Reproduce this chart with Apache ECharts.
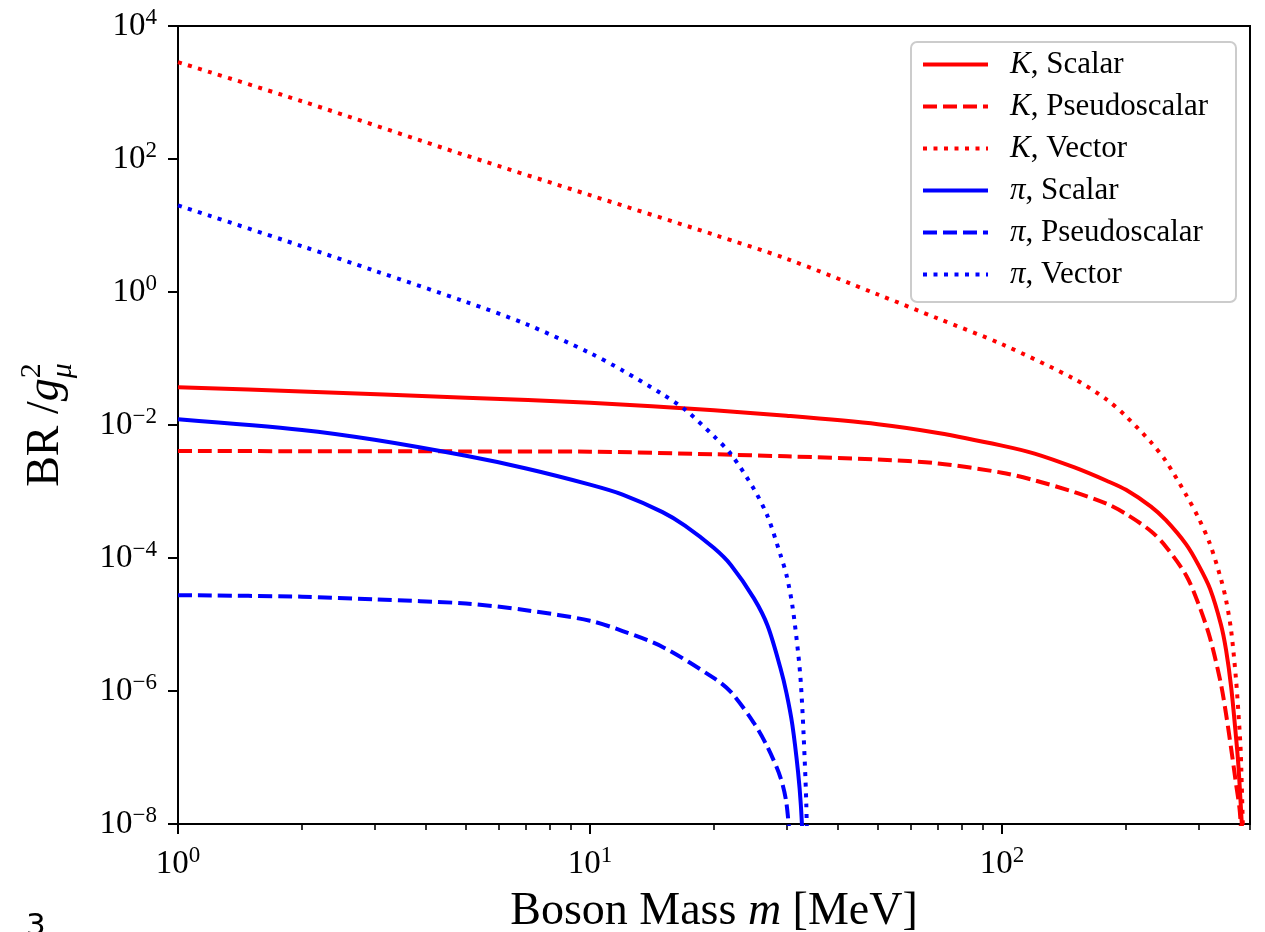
<!DOCTYPE html>
<html>
<head>
<meta charset="utf-8">
<script src="https://cdn.jsdelivr.net/npm/echarts@6/dist/echarts.min.js"></script>
<style>
html, body { margin: 0; padding: 0; background: #fff; }
#main { width: 1265px; height: 932px; }
</style>
</head>
<body>
<div id="main"></div>
<script>
// boson mass [MeV] and BR/g^2
var kScalarM  = [1, 2, 5, 10, 20, 30, 50, 70, 100, 120, 150, 180, 200, 230, 250, 280, 300, 320, 340, 350, 360, 370, 375, 380, 386];
var kScalarBR = [0.037, 0.0319, 0.0258, 0.0216, 0.0166, 0.0138, 0.0103, 0.0076, 0.0049, 0.00372, 0.0023, 0.00144, 0.00106, 5.93e-4, 3.7e-4, 1.6e-4, 7.8e-5, 3.43e-5, 1.0e-5, 4.1e-6, 1.15e-6, 2.0e-7, 7.4e-8, 1.86e-8, 3e-9];

var kPseudoM  = [1, 2, 5, 10, 20, 30, 50, 70, 100, 120, 150, 180, 200, 230, 250, 280, 300, 320, 340, 350, 360, 370, 378, 385];
var kPseudoBR = [0.00406, 0.00404, 0.00401, 0.00397, 0.00363, 0.00338, 0.00303, 0.00264, 0.00192, 0.00147, 9.8e-4, 6.5e-4, 4.6e-4, 2.53e-4, 1.48e-4, 5.46e-5, 2.03e-5, 6.2e-6, 1.28e-6, 4.45e-7, 1.36e-7, 4.0e-8, 1.5e-8, 2e-9];

var kVectorM  = [1, 2, 5, 10, 20, 30, 50, 70, 100, 150, 180, 200, 230, 250, 280, 300, 320, 340, 350, 360, 370, 375, 380, 386];
var kVectorBR = [2860, 738, 113, 28.6, 7.27, 3.16, 0.917, 0.398, 0.164, 0.049, 0.0238, 0.0135, 0.0055, 0.00286, 8.86e-4, 4.0e-4, 1.61e-4, 4.85e-5, 2.31e-5, 8.1e-6, 1.48e-6, 4.6e-7, 1.13e-7, 3e-9];

var piScalarM  = [1, 2, 3, 5, 7, 10, 12, 15, 17, 20, 22, 25, 27, 29, 30, 31, 32, 32.5, 33];
var piScalarBR = [0.0122, 0.00843, 0.006, 0.00344, 0.00222, 0.00127, 9.0e-4, 4.9e-4, 3.07e-4, 1.41e-4, 7.8e-5, 2.47e-5, 9.5e-6, 2.2e-6, 9.2e-7, 3.06e-7, 6.0e-8, 1.9e-8, 3e-9];

var piPseudoM  = [1, 2, 3, 5, 7, 10, 12, 15, 20, 22, 25, 27, 29, 30, 31];
var piPseudoBR = [2.76e-5, 2.62e-5, 2.38e-5, 2.07e-5, 1.64e-5, 1.14e-5, 7.98e-6, 4.6e-6, 1.56e-6, 9.6e-7, 3.3e-7, 1.42e-7, 5.0e-8, 2.0e-8, 2e-9];

var piVectorM  = [1, 2, 3, 5, 7, 10, 12, 15, 17, 20, 22, 25, 27, 29, 30, 31, 32, 32.5, 33, 33.5, 33.8];
var piVectorBR = [20.1, 4.88, 2.09, 0.71, 0.329, 0.121, 0.066, 0.029, 0.0171, 0.00676, 0.00363, 1.09e-3, 4.2e-4, 1.11e-4, 5.5e-5, 1.9e-5, 3.8e-6, 1.3e-6, 2.2e-7, 2e-8, 1e-9];

var xMajorTicks = [1, 10, 100];
var xMinorTicks = [2, 3, 4, 5, 6, 7, 8, 9, 20, 30, 40, 50, 60, 70, 80, 90, 200, 300, 400];
var yMajorTicks = [1e-8, 1e-6, 1e-4, 1e-2, 1, 1e2, 1e4];

var FONT = '"Liberation Serif", "Times New Roman", serif';
var RED = '#ff0000', BLUE = '#0000ff';
var DASH = [14, 6], DOT = [4, 6.5];

function pairs(m, br){
	var out = [];
	for (var i = 0; i < m.length; i++) out.push([m[i], br[i]]);
	return out;
}

function powLabel(v){
	var e = Math.round(Math.log(v) / Math.LN10);
	var s = e < 0 ? '\u2212' + (-e) : '' + e;
	return '{b|10}{s|' + s + '}';
}

var powRich = {
	b: { fontFamily: FONT, fontSize: 33, lineHeight: 40, color: '#000' },
	s: { fontFamily: FONT, fontSize: 23, lineHeight: 28, verticalAlign: 'top', color: '#000' }
};

function line(name, m, br, color, type){
	return {
		name: name,
		type: 'line',
		data: pairs(m, br),
		symbol: 'none',
		smooth: 0.3,
		clip: true,
		lineStyle: { color: color, width: 4, type: type, cap: 'butt' },
		itemStyle: { color: color }
	};
}

// text metrics for the legend box and the y label
var ctx = document.createElement('canvas').getContext('2d');
function textW(font, s){ ctx.font = font; return ctx.measureText(s).width; }

var legFont = 31;
var legTextW = textW('italic ' + legFont + 'px ' + FONT, 'K') + textW(legFont + 'px ' + FONT, ', Pseudoscalar');
var legPadR = Math.max(8, 323 - 10 - 65 - 5 - 17 - legTextW);

// y axis title: BR /g with 2 over mu
var yFont = 46, ySub = 30;
var wBR = textW(yFont + 'px ' + FONT, 'BR /');
var wG = textW('italic ' + yFont + 'px ' + FONT, 'g');
var wS = Math.max(textW(ySub + 'px ' + FONT, '2'), textW('italic ' + ySub + 'px ' + FONT, '\u03bc'));
var yLen = wBR + wG + wS;
var x0 = -yLen / 2;

var myChart = echarts.init(document.getElementById('main'));

var option = {
	backgroundColor: '#fff',
	animation: false,
	grid: {
		left: 178, right: 15, top: 26, bottom: 108,
		containLabel: false,
		outerBoundsMode: 'none',
		show: true, borderColor: '#000', borderWidth: 2
	},
	legend: {
		orient: 'vertical',
		right: 29,
		top: 42,
		padding: [7, legPadR, 12, 10],
		itemWidth: 65,
		itemHeight: 14,
		itemGap: 11,
		borderColor: '#cccccc',
		borderWidth: 2,
		borderRadius: 6,
		backgroundColor: 'rgba(255,255,255,0.85)',
		itemStyle: { opacity: 0 },
		lineStyle: { width: 4 },
		formatter: function(name){
			return '{i|' + name.charAt(0) + '}{t|' + name.slice(1) + '}';
		},
		textStyle: {
			padding: [0, 0, 0, 17],
			rich: {
				i: { fontFamily: FONT, fontStyle: 'italic', fontSize: legFont, color: '#000' },
				t: { fontFamily: FONT, fontSize: legFont, color: '#000' }
			}
		}
	},
	xAxis: [{
		type: 'log',
		logBase: 10,
		min: 1,
		max: 400,
		name: '{n|Boson Mass }{i|m}{n| [MeV]}',
		nameLocation: 'middle',
		nameGap: 65,
		nameTextStyle: {
			rich: {
				n: { fontFamily: FONT, fontSize: 46, color: '#000' },
				i: { fontFamily: FONT, fontSize: 46, fontStyle: 'italic', color: '#000' }
			}
		},
		axisLine: { lineStyle: { color: '#000', width: 2 } },
		axisTick: { customValues: xMajorTicks, length: 10, lineStyle: { color: '#000', width: 2 } },
		axisLabel: { customValues: xMajorTicks, formatter: powLabel, margin: 20, rich: powRich },
		splitLine: { show: false }
	}, {
		type: 'log',
		logBase: 10,
		min: 1,
		max: 400,
		position: 'bottom',
		axisLine: { show: false },
		axisTick: { customValues: xMinorTicks, length: 6, lineStyle: { color: '#000', width: 1.6 } },
		axisLabel: { show: false },
		splitLine: { show: false }
	}],
	yAxis: {
		type: 'log',
		logBase: 10,
		min: 1e-8,
		max: 1e4,
		axisLine: { show: true, lineStyle: { color: '#000', width: 2 } },
		axisTick: { show: true, customValues: yMajorTicks, length: 10, lineStyle: { color: '#000', width: 2 } },
		axisLabel: { customValues: yMajorTicks, formatter: powLabel, margin: 21, rich: powRich },
		splitLine: { show: false }
	},
	graphic: [{
		type: 'group',
		x: 46,
		y: 425,
		rotation: Math.PI / 2,
		children: [
			{ type: 'text', style: { text: 'BR /', x: x0, y: 0, font: yFont + 'px ' + FONT, fill: '#000', verticalAlign: 'middle' } },
			{ type: 'text', style: { text: 'g', x: x0 + wBR, y: 0, font: 'italic ' + yFont + 'px ' + FONT, fill: '#000', verticalAlign: 'middle' } },
			{ type: 'text', style: { text: '2', x: x0 + wBR + wG, y: -14, font: ySub + 'px ' + FONT, fill: '#000', verticalAlign: 'middle' } },
			{ type: 'text', style: { text: '\u03bc', x: x0 + wBR + wG, y: 17, font: 'italic ' + ySub + 'px ' + FONT, fill: '#000', verticalAlign: 'middle' } }
		]
	}, {
		type: 'text',
		left: 26,
		top: 911,
		style: { text: '3', font: '31px "DejaVu Sans", sans-serif', fill: '#000' }
	}],
	series: [
		line('K, Scalar', kScalarM, kScalarBR, RED, 'solid'),
		line('K, Pseudoscalar', kPseudoM, kPseudoBR, RED, DASH),
		line('K, Vector', kVectorM, kVectorBR, RED, DOT),
		line('\u03c0, Scalar', piScalarM, piScalarBR, BLUE, 'solid'),
		line('\u03c0, Pseudoscalar', piPseudoM, piPseudoBR, BLUE, DASH),
		line('\u03c0, Vector', piVectorM, piVectorBR, BLUE, DOT)
	]
};

myChart.setOption(option);
</script>
</body>
</html>
